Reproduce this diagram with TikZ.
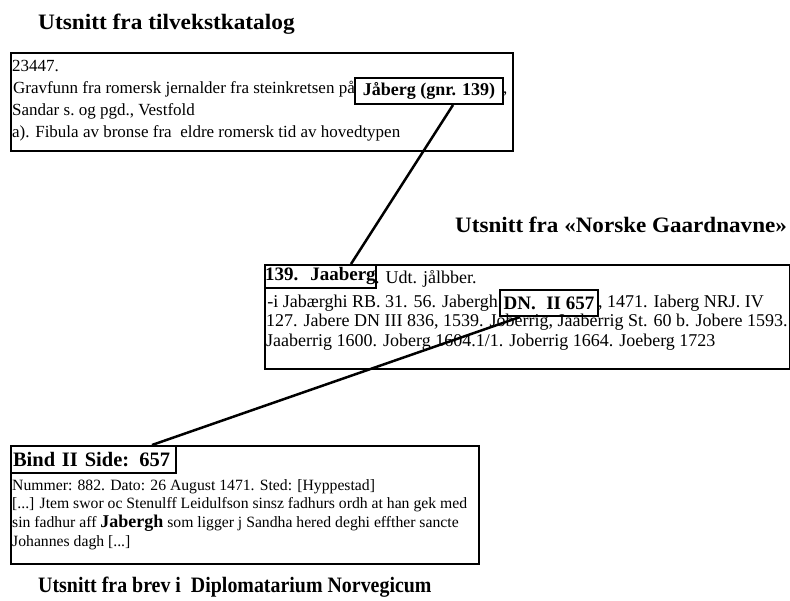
\documentclass[tikz,border=0pt]{standalone}
\usepackage{fontspec}
\setmainfont{Liberation Serif}
\usetikzlibrary{calc}
\newcommand{\fszA}{\fontsize{17}{20}\selectfont}
\newcommand{\fszAb}{\fontsize{18}{20}\selectfont\bfseries}
\newcommand{\fszB}{\fontsize{18}{20}\selectfont}
\newcommand{\fszBb}{\fontsize{19}{21}\selectfont\bfseries}
\newcommand{\fszC}{\fontsize{15.7}{19}\selectfont}
\newcommand{\fszCb}{\fontsize{20.5}{22}\selectfont\bfseries}
\newcommand{\fszT}{\fontsize{22}{24}\selectfont\bfseries}
\begin{document}
\begin{tikzpicture}[x=1pt,y=-1pt,
  obox/.style={draw, line width=2pt, anchor=north west, inner sep=0pt},
  ibox/.style={draw, line width=2pt, anchor=north west, inner sep=0pt, align=center},
  txt/.style={anchor=base west, inner sep=0pt},
  txte/.style={anchor=base east, inner sep=0pt},
  conn/.style={line width=2.5pt}]
\useasboundingbox (0,0) rectangle (790,601);

% titles
\node[txt, font=\fszT] (t1) at (38,30) {\scalebox{1.06}[1]{Utsnitt fra tilvekstkatalog}};
\node[txt, font=\fszT] (t2) at (455,233) {\scalebox{1.05}[1]{Utsnitt fra «Norske Gaardnavne»}};
\node[txt, font=\fszT] (t3) at (38,592) {\scalebox{0.905}[1]{Utsnitt fra brev i\ \ Diplomatarium Norvegicum}};

% box 1
\node[obox, minimum width=502, minimum height=98] (b1) at (10,52) {};
\node[txt, font=\fszA] (l11) at (12,72) {23447.};
\node[txte, font=\fszA] (l12) at (355,94) {Gravfunn fra romersk jernalder fra steinkretsen på};
\node[ibox, font=\fszAb, minimum width=148, minimum height=26] (jab) at (354,77) {Jåberg (gnr. 139)};
\node[txt, font=\fszA] (l12b) at (503,94) {,};
\node[txt, font=\fszA] (l13) at (12,116) {Sandar s.\ og pgd., Vestfold};
\node[txt, font=\fszA] (l14) at (12,138) {a). Fibula av bronse fra\ \ eldre romersk tid av hovedtypen};

% box 2
\node[obox, minimum width=525, minimum height=104] (b2) at (264,264) {};
\node[ibox, font=\fszBb, minimum width=110, minimum height=23] (jaa) at (264,264) {139.\hspace{0.3em} Jaaberg};
\node[txt, font=\fszB] (l21) at (375,284) {. Udt. jålbber.};
\node[txte, font=\fszB] (l22) at (498,308) {-i Jabærghi RB. 31. 56. Jabergh};
\node[ibox, font=\fszBb, minimum width=98, minimum height=26] (dn) at (499,289) {DN.\hspace{0.3em} II 657};
\node[txt, font=\fszB] (l22b) at (598,308) {, 1471. Iaberg NRJ. IV};
\node[txt, font=\fszB] (l23) at (266,327) {127. Jabere DN III 836, 1539. Joberrig, Jaaberrig St. 60 b. Jobere 1593.};
\node[txt, font=\fszB] (l24) at (266,347) {Jaaberrig 1600. Joberg 1604.1/1. Joberrig 1664. Joeberg 1723};

% box 3
\node[obox, minimum width=468, minimum height=118] (b3) at (10,445) {};
\node[ibox, font=\fszCb, minimum width=165, minimum height=27, text width=161, inner xsep=2pt, align=left] (bind) at (10,445) {Bind II Side: 657};
\node[txt, font=\fszC] (l31) at (12,490) {Nummer: 882. Dato: 26 August 1471. Sted: [Hyppestad]};
\node[txt, font=\fszC] (l32) at (12,508) {[...] Jtem swor oc Stenulff Leidulfson sinsz fadhurs ordh at han gek med};
\node[txt, font=\fszC] (l33) at (12,527) {sin fadhur aff {\fontsize{18}{18}\selectfont\bfseries Jabergh} som ligger j Sandha hered deghi effther sancte};
\node[txt, font=\fszC] (l34) at (12,546) {Johannes dagh [...]};

% connectors
\draw[conn] ($(jab.south west)+(99,0)$) -- ($(jaa.north west)+(87,0)$);
\draw[conn] ($(dn.south west)+(21,0)$) -- ($(bind.north west)+(142,0)$);
\end{tikzpicture}
\end{document}
